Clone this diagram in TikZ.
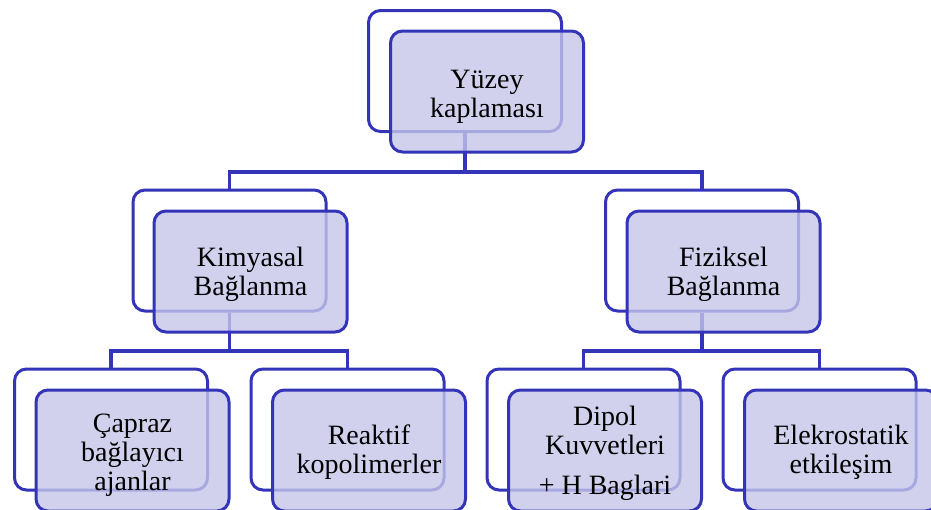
\documentclass[tikz,border=0pt]{standalone}
\usepackage{fontspec}
\setmainfont{Liberation Serif}
\definecolor{edge}{RGB}{52,52,184}
\definecolor{lav}{RGB}{198,198,234}
\tikzset{
  backbox/.style={draw=edge, line width=3pt, rounded corners=12pt, fill=white,
    minimum width=193pt, minimum height=121pt, inner sep=0pt},
  frontbox/.style={draw=edge, line width=3pt, rounded corners=12pt, fill=lav, fill opacity=0.8,
    minimum width=193pt, minimum height=121pt, inner sep=0pt},
  boxtext/.style={align=center, inner sep=0pt, font=\fontsize{28}{29}\selectfont, text=black},
  conn/.style={draw=edge, line width=3.5pt}
}
\begin{document}
\begin{tikzpicture}[x=1pt,y=-1pt]
\useasboundingbox (0,0) rectangle (931,509);
\clip (0,0) rectangle (931,509);
% back boxes
\node[backbox] (b0) at (465,71) {};
\node[backbox] (b1) at (229.5,250.5) {};
\node[backbox] (b2) at (702,250.5) {};
\node[backbox] (b11) at (111,429.5) {};
\node[backbox] (b12) at (347.5,429.5) {};
\node[backbox] (b21) at (583.5,429.5) {};
\node[backbox] (b22) at (819.5,429.5) {};
% junctions
\coordinate (j0) at (465,172);
\coordinate (j1) at (229.5,351);
\coordinate (j2) at (702,351);
% connectors
\draw[conn] (b0.south) -- (b0.south |- j0) -| (b1.north);
\draw[conn] (b0.south |- j0) -| (b2.north);
\draw[conn] (b1.south) -- (b1.south |- j1) -| (b11.north);
\draw[conn] (b1.south |- j1) -| (b12.north);
\draw[conn] (b2.south) -- (b2.south |- j2) -| (b21.north);
\draw[conn] (b2.south |- j2) -| (b22.north);
% front boxes
\node[frontbox] (f0) at (487,91.5) {};
\node[frontbox] (f1) at (250.5,271.5) {};
\node[frontbox] (f2) at (723.5,271.5) {};
\node[frontbox] (f11) at (132.5,450.5) {};
\node[frontbox] (f12) at (369,450.5) {};
\node[frontbox] (f21) at (605,450.5) {};
\node[frontbox] (f22) at (841,450.5) {};
% texts
\node[boxtext] (t0) at ([yshift=-5pt]f0.center) {Yüzey\\kaplaması};
\node[boxtext] (t1) at ([yshift=-3pt]f1.center) {Kimyasal\\Bağlanma};
\node[boxtext] (t2) at ([yshift=-3pt]f2.center) {Fiziksel\\Bağlanma};
\node[boxtext] (t11) at ([yshift=-5pt]f11.center) {Çapraz\\bağlayıcı\\ajanlar};
\node[boxtext] (t12) at ([yshift=-2pt]f12.center) {Reaktif\\kopolimerler};
\node[boxtext] (t21) at ([yshift=-2.5pt]f21.center) {Dipol\\Kuvvetleri\\[11pt]+ H Baglari};
\node[boxtext] (t22) at ([yshift=-2pt]f22.center) {Elekrostatik\\etkileşim};
\end{tikzpicture}
\end{document}
